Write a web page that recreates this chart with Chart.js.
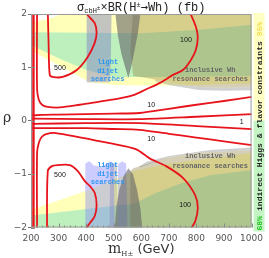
<!DOCTYPE html>
<html>
<head>
<meta charset="utf-8">
<script src="https://cdn.jsdelivr.net/npm/chart.js@4.4.1/dist/chart.umd.min.js"></script>
<style>
  html, body { margin: 0; padding: 0; background: #fff; }
  #box { width: 269px; height: 258px; }
</style>
</head>
<body>
<div id="box"><canvas id="chart"></canvas></div>
<script>
const massTicks = [200, 300, 400, 500, 600, 700, 800, 900, 1000];
const rhoTicks = [-2, -1, 0, 1, 2];

// shaded regions, outlines as [mass, rho]
const indirect95Up = [[195,1.85],[260,1.9],[340,2.05],[1005,2.05],[1005,0.7],[850,0.68],[770,0.66],[600,0.66],[500,0.67],[413,0.72],[300,1.04],[195,1.33]];
const indirect68Up = [[195,1.66],[600,1.64],[800,1.7],[1005,1.8],[1005,0.84],[700,0.82],[500,0.82],[400,0.95],[300,1.17],[195,1.43]];
const indirect95Down = [[195,-2.05],[195,-1.68],[400,-1.31],[575,-0.94],[700,-0.8],[1005,-0.6],[1005,-2.05]];
const indirect68Down = [[195,-2.05],[195,-1.78],[575,-1.55],[650,-1.36],[750,-1.16],[850,-1.02],[1005,-0.92],[1005,-2.05]];

const dijetUp = [[402,0.72],[402,2.05],[492,2.05],[490,1.3],[486,0.72]];
const dijetDown = [[397,-2.05],[397,-0.8],[412,-0.76],[428,-0.84],[455,-0.86],[475,-0.8],[490,-0.76],[500,-0.8],[503,-2.05]];
const dijetDownBump = [[514,-2.05],[516,-0.82],[530,-0.76],[545,-0.8],[550,-2.05]];
const dijetGrayDown = [[485,-2.05],[487,-0.85],[500,-0.8],[512,-0.82],[515,-2.05]];

const bumpUp = [[505,2.05],[515,1.6],[528,1.25],[542,1.0],[553,0.8],[563,1.0],[575,1.3],[588,1.65],[598,2.05]];
const bumpDown = [[503,-2.05],[510,-1.6],[520,-1.3],[535,-1.05],[553,-0.89],[570,-1.0],[585,-1.3],[597,-1.65],[604,-2.05]];

const whUp = [[570,2.05],[1005,2.05],[1005,0.63],[900,0.62],[809,0.63],[700,0.72],[620,0.8],[571,0.84],[560,1.3]];
const whEdgeUp = [[650,0.77],[700,0.72],[809,0.63],[900,0.62],[1005,0.63],[1005,0.57],[900,0.56],[809,0.575],[700,0.67],[650,0.74]];
const whDown = [[560,-2.05],[560,-0.95],[571,-0.89],[690,-0.7],[800,-0.6],[1005,-0.55],[1005,-2.05]];
const whEdgeDown = [[590,-0.86],[620,-0.77],[700,-0.66],[850,-0.55],[1005,-0.5],[1005,-0.55],[800,-0.6],[690,-0.7],[600,-0.87]];

// sigma x BR contours (fb)
const edgeA = [[203,-2.05],[203,2.05]];
const edgeB = [[210,-2.05],[210,2.05]];
const c500Up = [[261,2.05],[264,1.4],[268,0.86],[279,0.82],[315,0.82],[366,0.95],[405,1.19],[431,1.46],[438,1.66],[431,1.83],[405,1.98],[398,2.05]];
const c500Down = [[258,-2.05],[261,-0.94],[276,-0.85],[297,-0.83],[341,-0.83],[369,-0.94],[395,-1.13],[413,-1.22],[431,-1.35],[438,-1.58],[431,-1.79],[413,-1.92],[395,-2.05]];
const c100Up = [[222,2.05],[222,0.6],[228,0.4],[240,0.3],[260,0.26],[305,0.25],[377,0.3],[449,0.36],[521,0.42],[571,0.48],[618,0.59],[668,0.71],[715,0.86],[751,0.95],[780,1.14],[798,1.33],[805,1.57],[798,1.76],[775,2.05]];
const c100Down = [[222,-2.05],[222,-0.6],[228,-0.42],[238,-0.31],[255,-0.25],[290,-0.23],[377,-0.31],[485,-0.42],[580,-0.53],[632,-0.71],[690,-0.85],[751,-1.07],[795,-1.39],[805,-1.63],[796,-1.88],[777,-2.05]];
const c10Up = [[205,0.1],[240,0.11],[300,0.115],[400,0.125],[500,0.135],[593,0.145],[700,0.224],[800,0.3],[900,0.37],[1005,0.45]];
const c10Down = [[205,-0.14],[300,-0.14],[400,-0.14],[500,-0.155],[593,-0.17],[700,-0.245],[800,-0.315],[900,-0.385],[1005,-0.46]];
const c1Up = [[205,0.04],[400,0.03],[593,0.03],[800,0.075],[1005,0.126]];
const c1Down = [[205,-0.06],[400,-0.045],[593,-0.045],[800,-0.1],[1005,-0.157]];

const contourLabels = [['500',305,0.99],['500',305,-1.02],['100',762,1.51],['100',759,-1.58],['10',636,0.295],['10',636,-0.34],['1',964,-0.02]];
const dijetText = ['light', 'dijet', 'searches'];
const dijetTextAt = [[478,0.93],[478,-1.0]];
const whText = ['inclusive Wh', 'resonance searches'];
const whTextAt = [[850,0.866],[850,-0.76]];

const toXY = pts => pts.map(p => ({ x: p[0], y: p[1] }));

function region(pts, color) {
    return {
        data: toXY(pts.concat([pts[0]])),
        showLine: true,
        fill: 'shape',
        backgroundColor: color,
        borderColor: 'transparent',
        borderWidth: 0,
        pointRadius: 0,
        tension: 0
    };
}

function contour(pts) {
    return {
        data: toXY(pts),
        showLine: true,
        fill: false,
        borderColor: '#e8141c',
        borderWidth: 1.8,
        pointRadius: 0,
        tension: 0.3
    };
}

// bottom layer first
const layers = [
    region(indirect95Up, 'rgb(255,255,185)'),
    region(indirect95Down, 'rgb(255,255,185)'),
    region(indirect68Up, 'rgb(190,240,190)'),
    region(indirect68Down, 'rgb(190,240,190)'),
    region(dijetUp, 'rgba(140,140,140,0.3)'),
    region(dijetUp, 'rgba(120,120,255,0.25)'),
    region(dijetGrayDown, 'rgba(140,140,140,0.4)'),
    region(dijetDown, 'rgba(120,120,255,0.38)'),
    region(dijetDownBump, 'rgba(120,120,255,0.38)'),
    region(whUp, 'rgba(150,135,70,0.4)'),
    region(whDown, 'rgba(150,135,70,0.4)'),
    region(whEdgeUp, 'rgba(150,150,150,0.45)'),
    region(whEdgeDown, 'rgba(150,150,150,0.45)'),
    region(bumpUp, 'rgba(95,95,100,0.58)'),
    region(bumpDown, 'rgba(95,95,100,0.58)'),
    contour(edgeA), contour(edgeB),
    contour(c500Up), contour(c500Down),
    contour(c100Up), contour(c100Down),
    contour(c10Up), contour(c10Down),
    contour(c1Up), contour(c1Down)
];
layers.forEach((d, i) => { d.order = layers.length - i; });

function drawRuns(ctx, runs, x0, baseY, center) {
    let w = 0;
    runs.forEach(r => { ctx.font = r.font; r.w = ctx.measureText(r.t).width; w += r.w; });
    let px = center ? x0 - w / 2 : x0;
    runs.forEach(r => {
        ctx.font = r.font;
        ctx.fillStyle = r.color || '#222';
        ctx.fillText(r.t, px, baseY + (r.dy || 0));
        px += r.w;
    });
}

const MONO = "'Liberation Mono','DejaVu Sans Mono',monospace";

const decorations = {
    id: 'decorations',
    afterDatasetsDraw(chart) {
        const { ctx, chartArea: a, scales: { x, y } } = chart;
        ctx.save();

        // inward frame ticks
        ctx.strokeStyle = '#888';
        ctx.lineWidth = 1;
        for (let m = 200; m <= 1000; m += 20) {
            const px = Math.round(x.getPixelForValue(m)) + 0.5;
            const len = m % 100 === 0 ? 4 : 2;
            ctx.beginPath(); ctx.moveTo(px, a.bottom); ctx.lineTo(px, a.bottom - len); ctx.stroke();
        }
        for (let k = -10; k <= 10; k++) {
            const py = Math.round(y.getPixelForValue(k / 5)) + 0.5;
            const len = k % 5 === 0 ? 4 : 2;
            ctx.beginPath(); ctx.moveTo(a.left, py); ctx.lineTo(a.left + len, py); ctx.stroke();
        }
        ctx.strokeStyle = '#999';
        ctx.strokeRect(a.left + 0.5, a.top + 0.5, a.width - 1, a.height - 1);

        // contour values
        ctx.textAlign = 'center';
        ctx.textBaseline = 'middle';
        ctx.fillStyle = '#111';
        ctx.font = "7px 'Liberation Sans', Arial, sans-serif";
        contourLabels.forEach(l => ctx.fillText(l[0], x.getPixelForValue(l[1]), y.getPixelForValue(l[2])));

        // region names
        ctx.font = "bold 7px " + MONO;
        ctx.fillStyle = '#2f97f0';
        dijetTextAt.forEach(p => {
            const cx = x.getPixelForValue(p[0]), cy = y.getPixelForValue(p[1]);
            dijetText.forEach((t, i) => ctx.fillText(t, cx, cy + (i - 1) * 8.5));
        });
        ctx.fillStyle = '#666';
        whTextAt.forEach(p => {
            const cx = x.getPixelForValue(p[0]), cy = y.getPixelForValue(p[1]);
            whText.forEach((t, i) => ctx.fillText(t, cx, cy + (i - 0.5) * 9.5));
        });

        // side key for the indirect constraints
        const sx = a.right + 2, sw = 11, sTop = a.top - 1, sBot = a.bottom + 4;
        const mid = y.getPixelForValue(0);
        ctx.fillStyle = '#ffffc4';
        ctx.fillRect(sx, sTop, sw, mid - sTop);
        ctx.fillStyle = '#c4f4c4';
        ctx.fillRect(sx, mid, sw, sBot - mid);
        ctx.save();
        ctx.translate(sx + sw / 2 + 0.5, sBot - 1);
        ctx.rotate(-Math.PI / 2);
        ctx.textAlign = 'left';
        ctx.textBaseline = 'middle';
        const kf = "bold 8.1px " + MONO;
        drawRuns(ctx, [
            { t: '68%', font: kf, color: '#22c422' },
            { t: ' indirect Higgs & flavor constraints ', font: kf, color: '#222' },
            { t: '95%', font: kf, color: '#f2dc50' }
        ], 0, 0, false);
        ctx.restore();

        ctx.restore();
    },
    afterDraw(chart) {
        const { ctx, chartArea: a } = chart;
        ctx.save();
        ctx.textAlign = 'left';
        ctx.textBaseline = 'alphabetic';
        const cx = (a.left + a.right) / 2;
        const big = "12px " + MONO, small = "7px " + MONO;
        drawRuns(ctx, [
            { t: 'σ', font: big },
            { t: 'cbH', font: small, dy: 2 },
            { t: '±', font: "6px " + MONO, dy: -1 },
            { t: '×BR(H', font: big },
            { t: '±', font: small, dy: -4 },
            { t: '→', font: "12px 'DejaVu Sans Mono', monospace" },
            { t: 'Wh) (fb)', font: big }
        ], cx, 11, true);

        drawRuns(ctx, [
            { t: 'm', font: "14px 'DejaVu Serif', serif", color: '#333' },
            { t: 'H±', font: "7px 'DejaVu Serif', serif", dy: 3, color: '#333' },
            { t: ' (GeV)', font: "13px 'DejaVu Sans', sans-serif", color: '#333' }
        ], cx, 253, true);

        ctx.font = "14px 'DejaVu Serif', serif";
        ctx.fillStyle = '#333';
        ctx.textAlign = 'center';
        ctx.fillText('ρ', 7, 122);
        ctx.restore();
    }
};

new Chart(document.getElementById('chart'), {
    type: 'scatter',
    data: { datasets: layers },
    options: {
        responsive: true,
        maintainAspectRatio: false,
        animation: false,
        layout: { padding: { top: 14, right: 16, left: 0, bottom: 0 } },
        plugins: { legend: { display: false }, tooltip: { enabled: false } },
        scales: {
            x: {
                type: 'linear',
                min: 200,
                max: 1000,
                afterBuildTicks: s => { s.ticks = massTicks.map(v => ({ value: v })); },
                afterFit: s => { s.height = 30.5; },
                grid: { display: false, drawTicks: false },
                border: { display: false },
                ticks: {
                    font: { family: 'DejaVu Sans', size: 9 },
                    color: '#555',
                    padding: 6,
                    maxRotation: 0,
                    autoSkip: false,
                    callback: v => String(v)
                }
            },
            y: {
                type: 'linear',
                min: -2,
                max: 2,
                afterBuildTicks: s => { s.ticks = rhoTicks.map(v => ({ value: v })); },
                afterFit: s => { s.width = 31; },
                grid: { drawOnChartArea: false, drawTicks: true, tickLength: 3, color: '#777' },
                border: { display: false },
                ticks: {
                    font: { family: 'DejaVu Sans', size: 9 },
                    color: '#555',
                    padding: 1,
                    callback: v => (v < 0 ? '\u2212' + Math.abs(v) : String(v))
                }
            }
        }
    },
    plugins: [decorations]
});
</script>
</body>
</html>
